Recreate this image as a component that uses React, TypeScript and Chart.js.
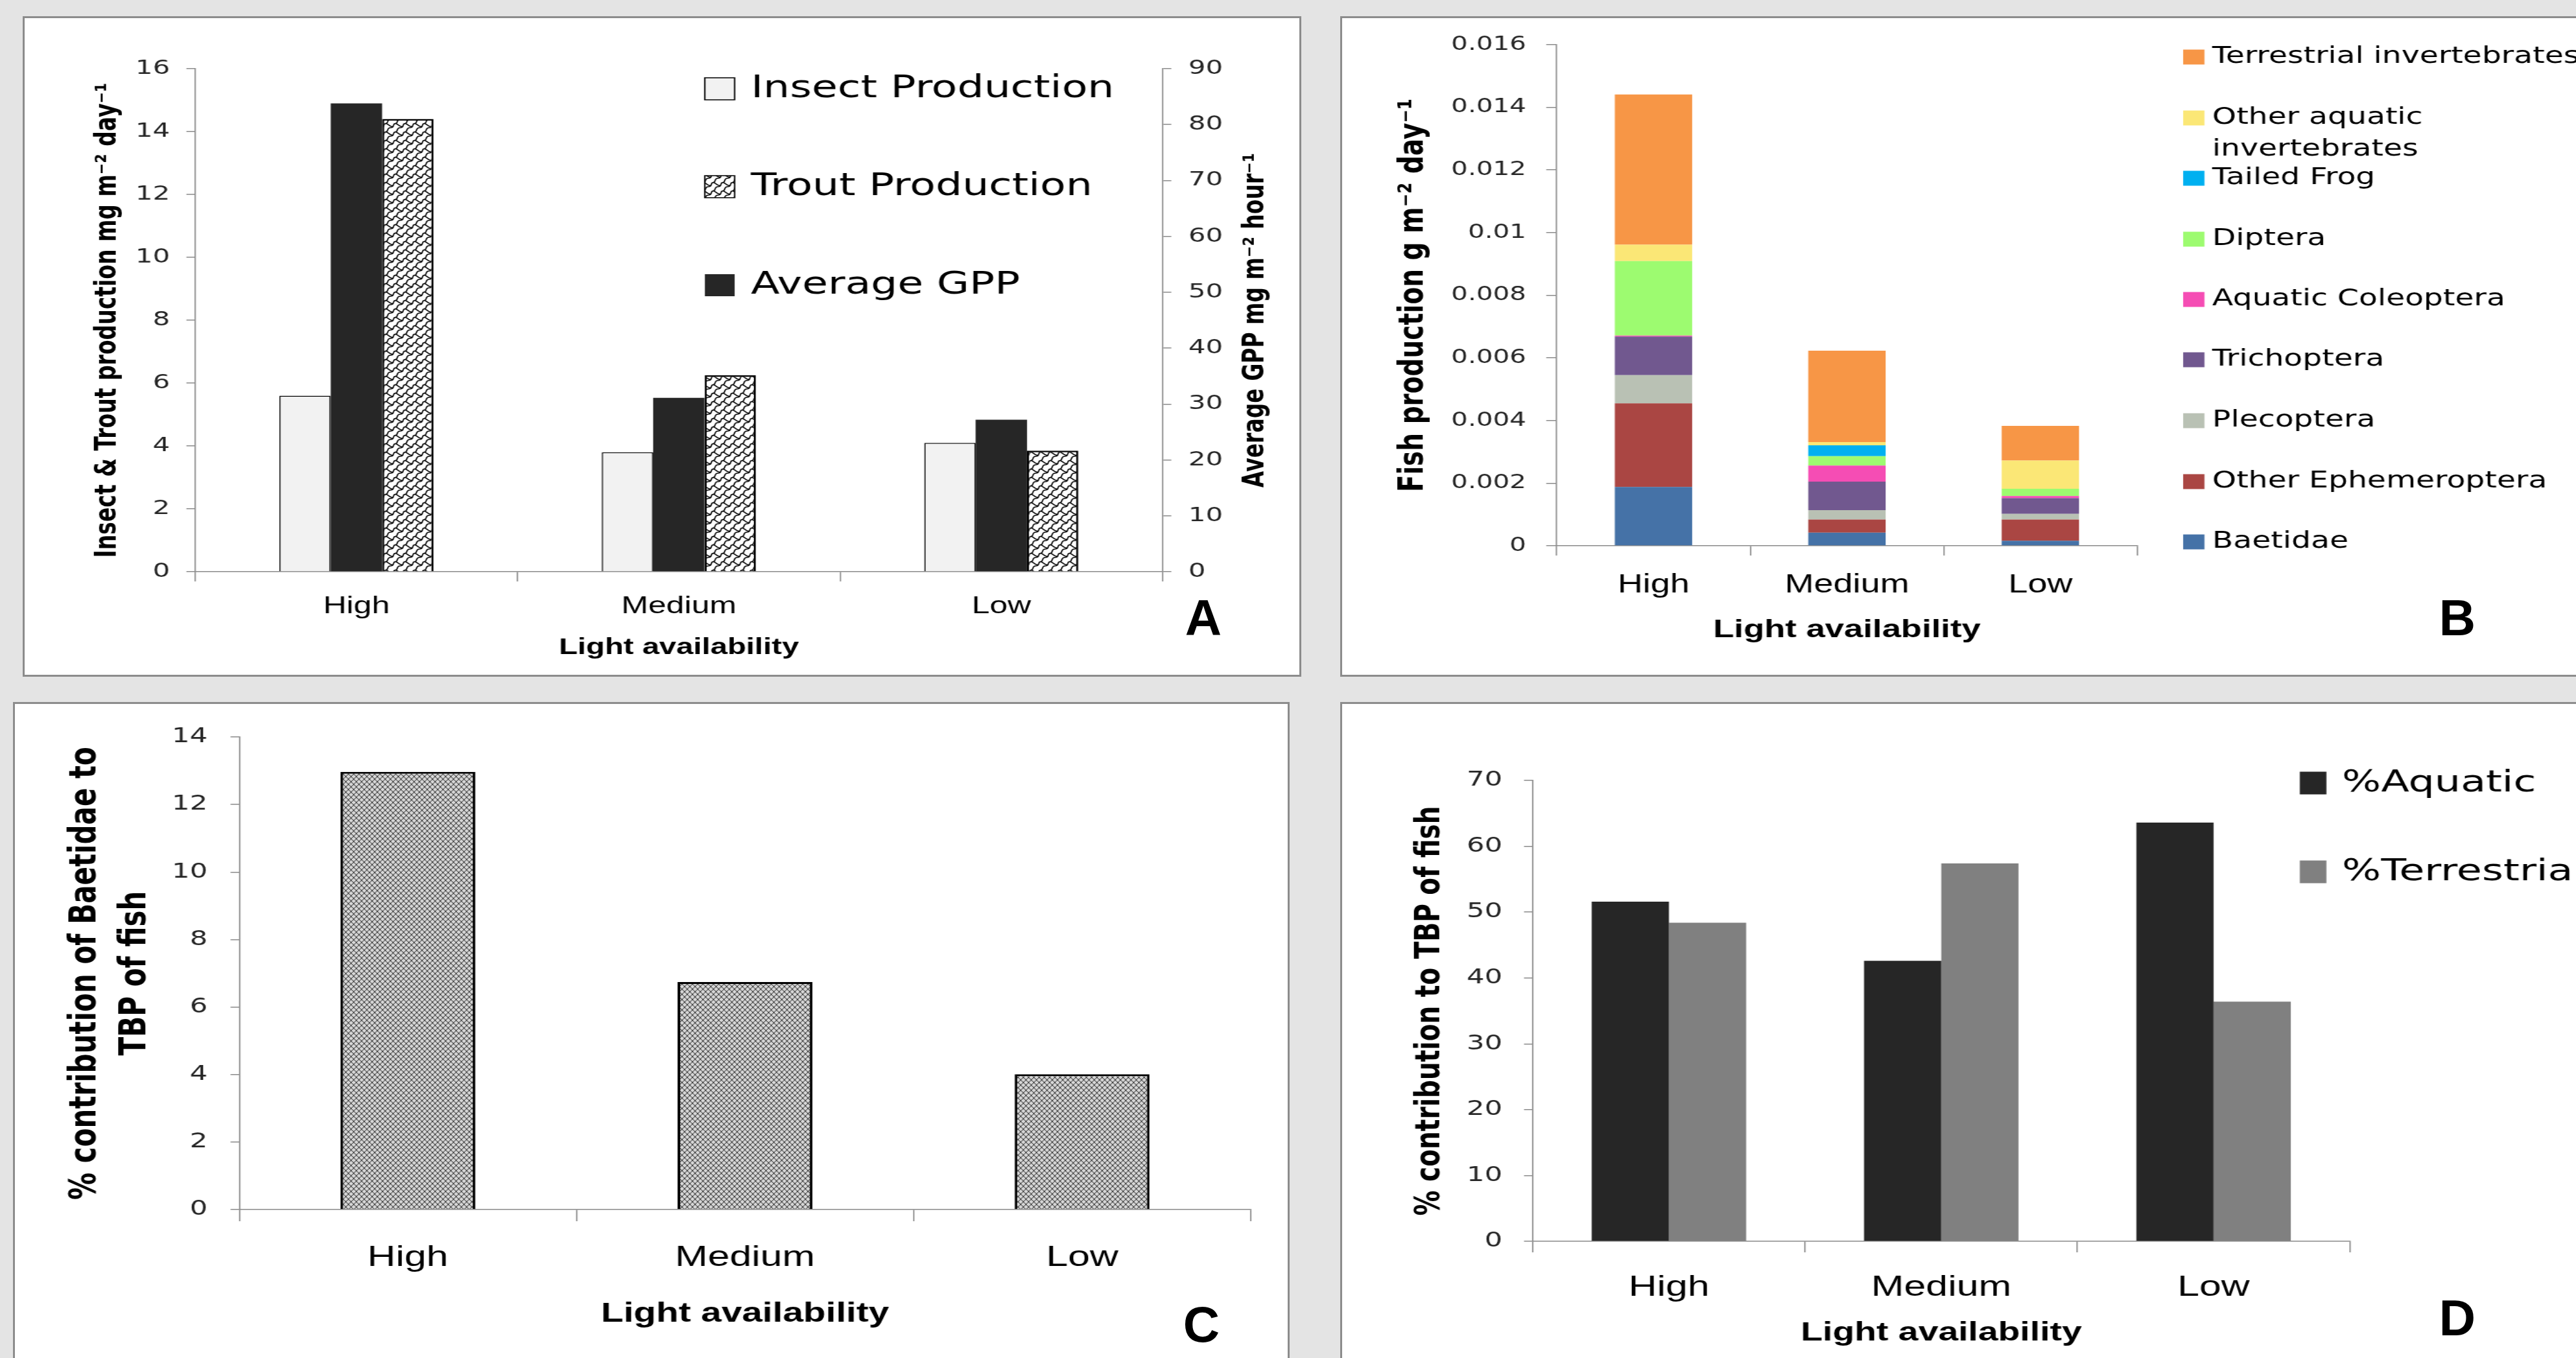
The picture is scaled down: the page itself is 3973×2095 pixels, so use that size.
import React, { useEffect, useRef } from 'react';
import { Chart, registerables } from 'chart.js';

Chart.register(...registerables);

// ---------------- data ----------------
const categories = ['High', 'Medium', 'Low'];

// Panel A
const insectProduction = [5.6, 3.8, 4.1];
const troutProduction = [14.4, 6.25, 3.85];
const averageGPP = [83.8, 31.1, 27.2];
const aLeftTicks = [0, 2, 4, 6, 8, 10, 12, 14, 16];
const aRightTicks = [0, 10, 20, 30, 40, 50, 60, 70, 80, 90];

// Panel B (stacked, bottom to top)
const baetidae = [0.00188, 0.00042, 0.00016];
const otherEphemeroptera = [0.00267, 0.00042, 0.00068];
const plecoptera = [0.0009, 0.0003, 0.00018];
const trichoptera = [0.00123, 0.00091, 0.0005];
const aquaticColeoptera = [0.00003, 0.00051, 0.00007];
const diptera = [0.00238, 0.0003, 0.00023];
const tailedFrog = [0, 0.00035, 0];
const otherAquaticInvertebrates = [0.00052, 0.0001, 0.0009];
const terrestrialInvertebrates = [0.0048, 0.00292, 0.00111];
const bTicks = [0, 0.002, 0.004, 0.006, 0.008, 0.01, 0.012, 0.014, 0.016];
const bTickLabels = ['0', '0.002', '0.004', '0.006', '0.008', '0.01', '0.012', '0.014', '0.016'];

// Panel C
const baetidaeContribution = [12.97, 6.74, 4.01];
const cTicks = [0, 2, 4, 6, 8, 10, 12, 14];

// Panel D
const aquaticPct = [51.6, 42.6, 63.6];
const terrestrialPct = [48.4, 57.4, 36.4];
const dTicks = [0, 10, 20, 30, 40, 50, 60, 70];

// ---------------- styles ----------------
const S = 1.35;
const AXIS = '#8a8a8a';
const TICK_FONT = '"DejaVu Sans", Verdana, sans-serif';
const CAT_FONT = '"Liberation Sans", Arial, sans-serif';
const TITLE_FONT = '"DejaVu Sans", Verdana, sans-serif';
const XTITLE_FONT = '"Liberation Sans", Arial, sans-serif';

function fixedTicks(values: number[]) {
  return (sc: any) => {
    sc.ticks = values.map((v) => ({ value: v }));
  };
}

function makeTroutPattern(ctx: CanvasRenderingContext2D) {
  const w = 11, h = 13;
  const c = document.createElement('canvas');
  c.width = w; c.height = h;
  const t = c.getContext('2d')!;
  t.fillStyle = '#fff';
  t.fillRect(0, 0, w, h);
  t.strokeStyle = '#000';
  t.lineWidth = 1.5;
  for (const dx of [-w, 0, w]) {
    for (const dy of [-h, 0, h]) {
      t.beginPath();
      t.moveTo(dx, dy + 13);
      t.bezierCurveTo(dx + 5, dy + 13, dx + 2, dy + 6.5, dx + 5.5, dy + 6.5);
      t.bezierCurveTo(dx + 9, dy + 6.5, dx + 6, dy, dx + 11, dy);
      t.moveTo(dx + 5.5, dy + 6.5);
      t.bezierCurveTo(dx + 8, dy + 6.5, dx + 9.5, dy + 11.5, dx + 13.7, dy + 11.6);
      t.stroke();
    }
  }
  return ctx.createPattern(c, 'repeat');
}

function makeCrossPattern(ctx: CanvasRenderingContext2D) {
  const w = 6, h = 8;
  const c = document.createElement('canvas');
  c.width = w; c.height = h;
  const t = c.getContext('2d')!;
  t.fillStyle = '#d8d8d8';
  t.fillRect(0, 0, w, h);
  t.strokeStyle = '#3a3a3a';
  t.lineWidth = 1;
  for (const dx of [-w, 0, w]) {
    t.beginPath();
    t.moveTo(dx, 0); t.lineTo(dx + w, h);
    t.moveTo(dx + w, 0); t.lineTo(dx, h);
    t.stroke();
  }
  return ctx.createPattern(c, 'repeat');
}

type Geo = { iw: number; h: number; X: (x: number) => number; Y: (y: number) => number; ctx: CanvasRenderingContext2D };

function baseOptions(padding: any) {
  return {
    responsive: false,
    maintainAspectRatio: false,
    animation: false,
    devicePixelRatio: 1,
    layout: { padding },
    plugins: { legend: { display: false }, tooltip: { enabled: false } },
  };
}

function xAxis(g: Geo, bottom: number, o: { tickLen: number; catSize: number; catY: number; titleSize: number; titleY: number; stacked?: boolean }) {
  const { h, Y } = g;
  return {
    type: 'category',
    offset: true,
    stacked: !!o.stacked,
    grid: { offset: true, display: true, drawOnChartArea: false, drawTicks: true, tickLength: o.tickLen, color: AXIS, lineWidth: 1.5 },
    border: { display: true, color: AXIS, width: 1.5 },
    ticks: {
      font: { family: CAT_FONT, size: o.catSize },
      color: '#000',
      autoSkip: false,
      maxRotation: 0,
      padding: Y(o.catY) - bottom - o.tickLen - (o.catSize * 1.2) / 2,
    },
    title: {
      display: true,
      text: 'Light availability',
      color: '#000',
      font: { family: XTITLE_FONT, size: o.titleSize, weight: 'bold' },
      padding: { top: 0, bottom: h - Y(o.titleY) - (o.titleSize * 1.2) / 2 },
    },
    afterFit: (sc: any) => { sc.height = h - bottom; },
  };
}

function yAxis(g: Geo, o: { position: 'left' | 'right'; ticks: number[]; labels?: string[]; width: number; pad: number; tickLen: number; size: number; title?: any; stacked?: boolean }) {
  return {
    type: 'linear',
    position: o.position,
    stacked: !!o.stacked,
    min: o.ticks[0],
    max: o.ticks[o.ticks.length - 1],
    afterBuildTicks: fixedTicks(o.ticks),
    grid: { display: true, drawOnChartArea: false, drawTicks: true, tickLength: o.tickLen, color: AXIS, lineWidth: 1.5 },
    border: { display: true, color: AXIS, width: 1.5 },
    ticks: {
      font: { family: TICK_FONT, size: o.size },
      color: '#262626',
      padding: o.pad,
      callback: o.labels ? (_v: any, i: number) => o.labels![i] : undefined,
    },
    title: o.title || { display: false },
    afterFit: (sc: any) => { sc.width = o.width; },
  };
}

// ---------------- Panel A ----------------
function buildA(g: Geo) {
  const { iw, h, X, Y, ctx } = g;
  const left = X(301), right = X(1793), top = Y(106), bottom = Y(882);
  const trout = makeTroutPattern(ctx);
  const ytSize = 33;
  const common = { categoryPercentage: 0.478, barPercentage: 1 };
  return {
    type: 'bar',
    data: {
      labels: categories,
      datasets: [
        { label: 'Insect Production', data: insectProduction, yAxisID: 'y', backgroundColor: '#f2f2f2', borderColor: '#000', borderWidth: 1.5, ...common },
        { label: 'Average GPP', data: averageGPP, yAxisID: 'y1', backgroundColor: '#262626', borderWidth: 0, ...common },
        { label: 'Trout Production', data: troutProduction, yAxisID: 'y', backgroundColor: trout, borderColor: '#000', borderWidth: 2.5, ...common },
      ],
    },
    options: {
      ...baseOptions({ left: 0, right: 0, top, bottom: 0 }),
      scales: {
        x: xAxis(g, bottom, { tickLen: 15, catSize: 37, catY: 936, titleSize: 35, titleY: 999 }),
        y: yAxis(g, {
          position: 'left', ticks: aLeftTicks, width: left, pad: left - X(262) - 10, tickLen: 10, size: 31,
          title: {
            display: true, text: 'Insect & Trout production mg m\u207B\u00B2 day\u207B\u00B9', color: '#000',
            font: { family: TITLE_FONT, size: ytSize, weight: 'bold' },
            padding: { top: X(167) - (ytSize * 1.2) / 2, bottom: 0 },
          },
        }),
        y1: yAxis(g, { position: 'right', ticks: aRightTicks, width: iw - right, pad: X(1833) - right - 10, tickLen: 10, size: 31 }),
      },
    },
    plugins: [{
      id: 'panelA',
      afterDraw(chart: any) {
        const c = chart.ctx;
        const ca = chart.chartArea;
        c.save();
        c.translate(X(1937), (ca.top + ca.bottom) / 2);
        c.rotate(-Math.PI / 2);
        c.font = `bold ${ytSize}px ${TITLE_FONT}`;
        c.fillStyle = '#000';
        c.textAlign = 'center';
        c.textBaseline = 'middle';
        c.fillText('Average GPP mg m\u207B\u00B2 hour\u207B\u00B9', 0, 0);
        c.restore();

        const ds = chart.data.datasets;
        const order = [0, 2, 1];
        const ys = [137, 288, 440];
        const sx = X(1087), sw = X(1133) - X(1087), sh = 34;
        c.save();
        c.font = `48px ${TICK_FONT}`;
        c.textBaseline = 'middle';
        c.textAlign = 'left';
        order.forEach((di, k) => {
          const d = ds[di];
          const cy = Y(ys[k]);
          c.fillStyle = d.backgroundColor;
          c.fillRect(sx, cy - sh / 2, sw, sh);
          if (d.borderWidth) {
            c.strokeStyle = '#000';
            c.lineWidth = 1.5;
            c.strokeRect(sx, cy - sh / 2, sw, sh);
          }
          c.fillStyle = '#000';
          c.fillText(d.label, X(1158), cy + 1);
        });
        c.restore();
      },
    }],
  };
}

// ---------------- Panel B ----------------
const bSeries = [
  { label: 'Baetidae', data: baetidae, color: '#4572A7' },
  { label: 'Other Ephemeroptera', data: otherEphemeroptera, color: '#AA4643' },
  { label: 'Plecoptera', data: plecoptera, color: '#B9C1B4' },
  { label: 'Trichoptera', data: trichoptera, color: '#71588F' },
  { label: 'Aquatic Coleoptera', data: aquaticColeoptera, color: '#F54DB4' },
  { label: 'Diptera', data: diptera, color: '#9DFB70' },
  { label: 'Tailed Frog', data: tailedFrog, color: '#00B0F0' },
  { label: 'Other aquatic invertebrates', data: otherAquaticInvertebrates, color: '#FBE776' },
  { label: 'Terrestrial invertebrates', data: terrestrialInvertebrates, color: '#F79646' },
];

function buildB(g: Geo) {
  const { iw, X, Y } = g;
  const left = X(2401), right = X(3296), top = Y(64), bottom = Y(842);
  const ytSize = 39;
  return {
    type: 'bar',
    data: {
      labels: categories,
      datasets: bSeries.map((s) => ({
        label: s.label, data: s.data, backgroundColor: s.color, borderWidth: 0,
        barPercentage: 0.4, categoryPercentage: 1,
      })),
    },
    options: {
      ...baseOptions({ left: 0, right: iw - right, top, bottom: 0 }),
      scales: {
        x: xAxis(g, bottom, { tickLen: 15, catSize: 40, catY: 903, titleSize: 39, titleY: 972, stacked: true }),
        y: yAxis(g, {
          position: 'left', ticks: bTicks, labels: bTickLabels, width: left, pad: left - X(2354) - 12, tickLen: 12, size: 30, stacked: true,
          title: {
            display: true, text: 'Fish production g m\u207B\u00B2 day\u207B\u00B9', color: '#000',
            font: { family: TITLE_FONT, size: ytSize, weight: 'bold' },
            padding: { top: X(2181) - (ytSize * 1.2) / 2, bottom: 0 },
          },
        }),
      },
    },
    plugins: [{
      id: 'panelB',
      afterDraw(chart: any) {
        const c = chart.ctx;
        const ds = chart.data.datasets;
        const ys = [88, 182, 275, 369, 462, 555, 649, 743, 836];
        const sx = X(3367), sw = X(3400) - X(3367), sh = 23;
        c.save();
        c.font = `35px ${TICK_FONT}`;
        c.textBaseline = 'middle';
        c.textAlign = 'left';
        for (let k = 0; k < ds.length; k++) {
          const d = ds[ds.length - 1 - k];
          const cy = Y(ys[k]);
          c.fillStyle = d.backgroundColor;
          c.fillRect(sx, cy - sh / 2, sw, sh);
          c.fillStyle = '#000';
          const words = d.label.split(' ');
          if (d.label.length > 25) {
            c.fillText(words.slice(0, -1).join(' '), X(3412), cy);
            c.fillText(words[words.length - 1], X(3412), Y(231));
          } else {
            c.fillText(d.label, X(3412), cy);
          }
        }
        c.restore();
      },
    }],
  };
}

// ---------------- Panel C ----------------
function buildC(g: Geo) {
  const { iw, X, Y, ctx } = g;
  const left = X(369), right = X(1929), top = Y(1137), bottom = Y(1866);
  const cross = makeCrossPattern(ctx);
  const ytSize = 42;
  return {
    type: 'bar',
    data: {
      labels: categories,
      datasets: [{
        label: '% contribution of Baetidae to TBP of fish', data: baetidaeContribution,
        backgroundColor: cross, borderColor: '#000', borderWidth: 3,
        barPercentage: 0.4, categoryPercentage: 1,
      }],
    },
    options: {
      ...baseOptions({ left: 0, right: iw - right, top, bottom: 0 }),
      scales: {
        x: xAxis(g, bottom, { tickLen: 18, catSize: 45, catY: 1941, titleSize: 42, titleY: 2027 }),
        y: yAxis(g, {
          position: 'left', ticks: cTicks, width: left, pad: left - X(320) - 10, tickLen: 10, size: 32,
          title: {
            display: true, text: ['% contribution of Baetidae to', 'TBP of fish'], color: '#000',
            font: { family: TITLE_FONT, size: ytSize, weight: 'bold', lineHeight: 57 / ytSize },
            padding: { top: X(132) - 57 / 2, bottom: 0 },
          },
        }),
      },
    },
  };
}

// ---------------- Panel D ----------------
function buildD(g: Geo) {
  const { iw, X, Y } = g;
  const left = X(2364), right = X(3624), top = Y(1204), bottom = Y(1915);
  const ytSize = 39;
  return {
    type: 'bar',
    data: {
      labels: categories,
      datasets: [
        { label: '%Aquatic', data: aquaticPct, backgroundColor: '#262626', borderWidth: 0, categoryPercentage: 0.567, barPercentage: 1 },
        { label: '%Terrestrial', data: terrestrialPct, backgroundColor: '#808080', borderWidth: 0, categoryPercentage: 0.567, barPercentage: 1 },
      ],
    },
    options: {
      ...baseOptions({ left: 0, right: iw - right, top, bottom: 0 }),
      scales: {
        x: xAxis(g, bottom, { tickLen: 17, catSize: 45, catY: 1987, titleSize: 41, titleY: 2057 }),
        y: yAxis(g, {
          position: 'left', ticks: dTicks, width: left, pad: left - X(2317) - 10, tickLen: 10, size: 32,
          title: {
            display: true, text: '% contribution to TBP of fish', color: '#000',
            font: { family: TITLE_FONT, size: ytSize, weight: 'bold' },
            padding: { top: X(2206) - (ytSize * 1.2) / 2, bottom: 0 },
          },
        }),
      },
    },
    plugins: [{
      id: 'panelD',
      afterDraw(chart: any) {
        const c = chart.ctx;
        const ds = chart.data.datasets;
        const ys = [1208, 1345];
        const sx = X(3547), sw = X(3588) - X(3547), sh = 35;
        c.save();
        c.font = `47px ${TICK_FONT}`;
        c.textBaseline = 'middle';
        c.textAlign = 'left';
        ds.forEach((d: any, k: number) => {
          const cy = Y(ys[k]);
          c.fillStyle = d.backgroundColor;
          c.fillRect(sx, cy - sh / 2, sw, sh);
          c.fillStyle = '#000';
          c.fillText(d.label, X(3612), cy + 1);
        });
        c.restore();
      },
    }],
  };
}

// ---------------- components ----------------
function Panel({ left, top, width, height, build }: { left: number; top: number; width: number; height: number; build: (g: Geo) => any }) {
  const ref = useRef<HTMLCanvasElement>(null);
  const iw = Math.round(width / S);
  const sx = width / iw;
  useEffect(() => {
    const canvas = ref.current!;
    const ctx = canvas.getContext('2d')!;
    const g: Geo = { iw, h: height, X: (x: number) => (x - left) / sx, Y: (y: number) => y - top, ctx };
    const chart = new Chart(canvas, build(g));
    return () => chart.destroy();
  }, []);
  return (
    <canvas
      ref={ref}
      width={iw}
      height={height}
      style={{ position: 'absolute', left, top, width: iw, height, transform: `scaleX(${sx})`, transformOrigin: '0 0' }}
    />
  );
}

function Box({ left, top, width, height }: { left: number; top: number; width: number; height: number }) {
  return (
    <div style={{ position: 'absolute', left, top, width, height, boxSizing: 'border-box', border: '3px solid #8c8c8c', background: '#fff' }} />
  );
}

function Letter({ x, y, text }: { x: number; y: number; text: string }) {
  return (
    <div style={{
      position: 'absolute', left: x, top: y, transform: 'translate(-50%, -50%)',
      font: 'bold 78px "Liberation Sans", Arial, sans-serif', lineHeight: '78px', color: '#000',
    }}>{text}</div>
  );
}

export default function App() {
  return (
    <div style={{ position: 'absolute', left: 0, top: 0, width: 3973, height: 2095, overflow: 'hidden', background: '#e4e4e4' }}>
      <Box left={35} top={25} width={1972} height={1019} />
      <Box left={2067} top={25} width={1950} height={1019} />
      <Box left={20} top={1083} width={1969} height={1100} />
      <Box left={2067} top={1083} width={1950} height={1100} />
      <Panel left={38} top={28} width={1966} height={1013} build={buildA} />
      <Panel left={2070} top={28} width={1903} height={1013} build={buildB} />
      <Panel left={23} top={1086} width={1963} height={1009} build={buildC} />
      <Panel left={2070} top={1086} width={1903} height={1009} build={buildD} />
      <Letter x={1856} y={953} text="A" />
      <Letter x={3790} y={953} text="B" />
      <Letter x={1853} y={2043} text="C" />
      <Letter x={3790} y={2033} text="D" />
    </div>
  );
}
